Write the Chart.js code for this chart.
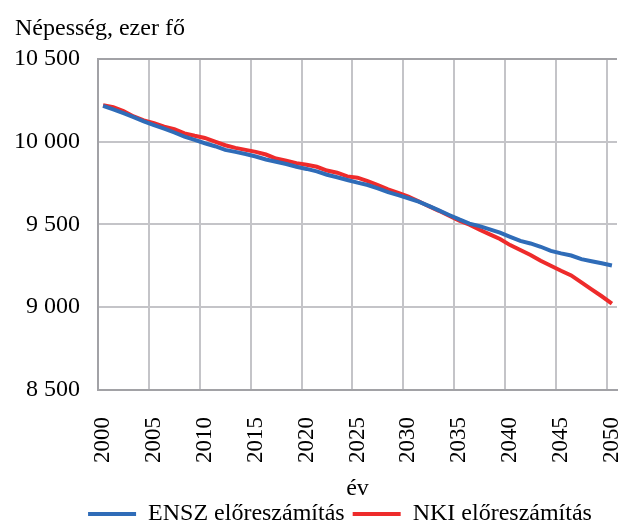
<!DOCTYPE html>
<html>
<head>
<meta charset="utf-8">
<script src="https://cdn.jsdelivr.net/npm/chart.js@4.4.1/dist/chart.umd.min.js"></script>
<style>
  body { margin: 0; background: #fff; }
  #wrap { width: 626px; height: 525px; }
</style>
</head>
<body>
<div id="wrap"><canvas id="chart"></canvas></div>
<script>
// DATA
var years = [];
for (var y = 2000; y <= 2050; y++) years.push(String(y));

var ensz = [
    10216, 10195, 10172, 10148, 10122, 10100, 10078, 10055, 10030, 10010,
    9990, 9972, 9950, 9938, 9925, 9910, 9892, 9878, 9865, 9848,
    9835, 9820, 9800, 9785, 9768, 9752, 9738, 9718, 9695, 9677,
    9658, 9637, 9612, 9585, 9557, 9530, 9505, 9490, 9470, 9450,
    9425, 9400, 9385, 9365, 9340, 9325, 9312, 9290, 9278, 9265,
    9252
];

var nki = [
    10220, 10208, 10185, 10152, 10128, 10112, 10090, 10075, 10050, 10035,
    10022, 10000, 9978, 9962, 9950, 9938, 9922, 9898, 9885, 9870,
    9860, 9848, 9825, 9812, 9790, 9782, 9762, 9738, 9712, 9690,
    9668, 9640, 9610, 9582, 9552, 9522, 9498, 9468, 9440, 9412,
    9375, 9345, 9315, 9280, 9250, 9220, 9192, 9150, 9108, 9066,
    9022
];

var yTicks = [8500, 9000, 9500, 10000, 10500];

var seriesNames = ["ENSZ előreszámítás", "NKI előreszámítás"];

// STYLE
var FONT = "'Liberation Serif', 'Times New Roman', serif";
var GRID = "#c4c4c8";
var BORDER = "#a2a2a6";

function thousands(v) {
    var s = String(v);
    if (s.length > 3) s = s.slice(0, s.length - 3) + " " + s.slice(-3);
    return s;
}

Chart.defaults.font.family = FONT;
Chart.defaults.color = "#000";

// move the legend a bit (Excel centres it differently)
var legendShift = {
    id: "legendShift",
    afterLayout: function (chart) {
        var lg = chart.legend;
        lg.left += 24;
        lg.right += 24;
        lg.top += 11;
        lg.bottom += 11;
    },
};

var ctx = document.getElementById("chart");
var myChart = new Chart(ctx, {
    type: "line",
    data: {
        labels: years,
        datasets: [
            {
                label: seriesNames[0],
                data: ensz,
                borderColor: "#2f6cb8",
                backgroundColor: "#2f6cb8",
                borderWidth: 4,
                pointRadius: 0,
                tension: 0,
            },
            {
                label: seriesNames[1],
                data: nki,
                borderColor: "#ee2b2b",
                backgroundColor: "#ee2b2b",
                borderWidth: 4,
                pointRadius: 0,
                tension: 0,
            },
        ],
    },
    plugins: [legendShift],
    options: {
        responsive: true,
        maintainAspectRatio: false,
        animation: false,
        layout: {
            padding: { left: 15, right: 9, top: 0, bottom: 0 },
        },
        plugins: {
            title: {
                display: true,
                text: "Népesség, ezer fő",
                align: "start",
                font: { size: 24, weight: "normal" },
                color: "#000",
                padding: { top: 14, bottom: 16 },
            },
            legend: {
                position: "bottom",
                labels: {
                    usePointStyle: true,
                    pointStyle: "line",
                    pointStyleWidth: 48,
                    font: { size: 24 },
                    color: "#000",
                    padding: 8,
                },
            },
            tooltip: { enabled: false },
        },
        scales: {
            x: {
                type: "category",
                offset: true,
                afterFit: function (axis) {
                    axis.height = 93;
                    axis.paddingLeft = 0;
                    axis.paddingRight = 0;
                },
                grid: {
                    offset: true,
                    drawTicks: false,
                    lineWidth: 2,
                    color: function (c) {
                        if (c.index === years.length) return BORDER;
                        return c.index % 5 === 0 ? GRID : "rgba(0,0,0,0)";
                    },
                },
                border: { color: BORDER, width: 2 },
                ticks: {
                    autoSkip: false,
                    minRotation: 90,
                    maxRotation: 90,
                    padding: 27,
                    font: { size: 23 },
                    color: "#000",
                    callback: function (val, i) {
                        return i % 5 === 0 ? years[i] : "";
                    },
                },
                title: {
                    display: true,
                    text: "év",
                    font: { size: 24 },
                    color: "#000",
                    padding: { top: 0, bottom: -20 },
                },
            },
            y: {
                min: yTicks[0],
                max: yTicks[yTicks.length - 1],
                afterFit: function (axis) {
                    axis.width = 83;
                },
                afterBuildTicks: function (axis) {
                    axis.ticks = yTicks.map(function (v) { return { value: v }; });
                },
                grid: {
                    drawTicks: false,
                    lineWidth: 2,
                    color: function (c) {
                        return c.index === yTicks.length - 1 ? BORDER : GRID;
                    },
                },
                border: { color: BORDER, width: 2 },
                ticks: {
                    padding: 18,
                    font: { size: 24 },
                    color: "#000",
                    callback: function (v) { return thousands(v); },
                },
            },
        },
    },
});
</script>
</body>
</html>
